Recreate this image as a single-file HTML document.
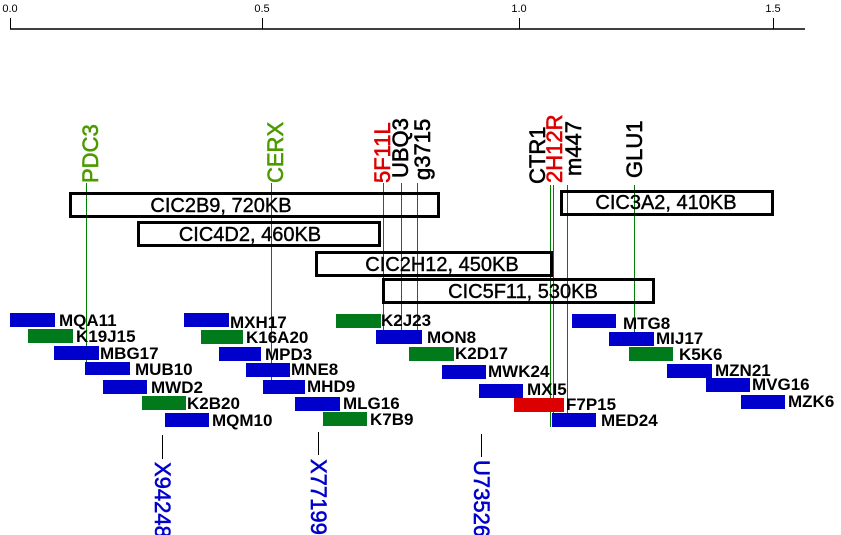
<!DOCTYPE html>
<html><head><meta charset="utf-8"><style>
html,body{margin:0;padding:0;background:#fff;}
svg{display:block;}
.t{font-family:"Liberation Sans",sans-serif;font-size:22px;stroke-width:0.6;}
.b{font-family:"Liberation Sans",sans-serif;font-size:20px;fill:#000;stroke:#000;stroke-width:0.4;}
.s{font-family:"Liberation Sans",sans-serif;font-size:17px;font-weight:bold;fill:#000;}
.ax{font-family:"Liberation Sans",sans-serif;font-size:11px;fill:#000;}
</style></head><body>
<svg width="841" height="535" viewBox="0 0 841 535" xmlns="http://www.w3.org/2000/svg">
<rect width="841" height="535" fill="#fff"/>
<line x1="10" y1="29" x2="805" y2="29" stroke="#000" stroke-width="1.5"/>
<g stroke="#000" stroke-width="1" shape-rendering="crispEdges">
<line x1="10.5" y1="18" x2="10.5" y2="29"/><line x1="262.5" y1="18" x2="262.5" y2="29"/>
<line x1="519.5" y1="18" x2="519.5" y2="29"/><line x1="773.5" y1="18" x2="773.5" y2="29"/>
</g>
<text class="ax" x="10" y="12" text-anchor="middle">0.0</text>
<text class="ax" x="262" y="12" text-anchor="middle">0.5</text>
<text class="ax" x="519" y="12" text-anchor="middle">1.0</text>
<text class="ax" x="773" y="12" text-anchor="middle">1.5</text>

<g stroke="#008000" stroke-width="1" shape-rendering="crispEdges">
<line x1="86.5" y1="183" x2="86.5" y2="375"/>
<line x1="271.5" y1="183" x2="271.5" y2="393"/>
<line x1="383.5" y1="183" x2="383.5" y2="343"/>
<line x1="401.5" y1="183" x2="401.5" y2="343"/>
<line x1="417.5" y1="183" x2="417.5" y2="343"/>
<line x1="550.5" y1="185" x2="550.5" y2="427"/>
<line x1="553.5" y1="185" x2="553.5" y2="427"/>
<line x1="567.5" y1="185" x2="567.5" y2="427"/>
<line x1="634.5" y1="185" x2="634.5" y2="345"/>
</g>

<g class="t">
<text transform="translate(98,183) rotate(-90)" fill="#4c9a00" stroke="#4c9a00">PDC3</text>
<text transform="translate(283,183) rotate(-90)" fill="#4c9a00" stroke="#4c9a00">CERX</text>
<text transform="translate(390,183) rotate(-90)" fill="#dd0000" stroke="#dd0000">5F11L</text>
<text transform="translate(408,178) rotate(-90)" fill="#000" stroke="#000">UBQ3</text>
<text transform="translate(430,180) rotate(-90)" fill="#000" stroke="#000">g3715</text>
<text transform="translate(545,184) rotate(-90)" fill="#000" stroke="#000">CTR1</text>
<text transform="translate(562,183) rotate(-90)" fill="#dd0000" stroke="#dd0000">2H12R</text>
<text transform="translate(581,176) rotate(-90)" fill="#000" stroke="#000">m447</text>
<text transform="translate(642,178) rotate(-90)" fill="#000" stroke="#000">GLU1</text>
</g>

<g fill="none" stroke="#000" stroke-width="3">
<rect x="70.5" y="193.5" width="368" height="23"/>
<rect x="138.5" y="222.5" width="241" height="23"/>
<rect x="316.5" y="252.5" width="235" height="23"/>
<rect x="383.5" y="279.5" width="270" height="23"/>
<rect x="561.5" y="191.5" width="211" height="23"/>
</g>
<text class="b" x="221" y="212" text-anchor="middle">CIC2B9, 720KB</text>
<text class="b" x="250" y="241" text-anchor="middle">CIC4D2, 460KB</text>
<text class="b" x="442" y="271" text-anchor="middle">CIC2H12, 450KB</text>
<text class="b" x="523" y="298" text-anchor="middle">CIC5F11, 530KB</text>
<text class="b" x="666" y="209" text-anchor="middle">CIC3A2, 410KB</text>

<g>
<rect x="10" y="313" width="45" height="14" fill="#0000cc"/><text class="s" x="59" y="326">MQA11</text>
<rect x="28" y="329" width="45" height="14" fill="#007a1a"/><text class="s" x="76" y="342">K19J15</text>
<rect x="54" y="346" width="45" height="14" fill="#0000cc"/><text class="s" x="100" y="359">MBG17</text>
<rect x="85" y="362" width="45" height="13" fill="#0000cc"/><text class="s" x="135" y="375">MUB10</text>
<rect x="103" y="380" width="44" height="14" fill="#0000cc"/><text class="s" x="151" y="393">MWD2</text>
<rect x="142" y="396" width="44" height="14" fill="#007a1a"/><text class="s" x="187" y="409">K2B20</text>
<rect x="165" y="413" width="44" height="14" fill="#0000cc"/><text class="s" x="212" y="426">MQM10</text>

<rect x="184" y="313" width="45" height="14" fill="#0000cc"/><text class="s" x="230" y="328">MXH17</text>
<rect x="201" y="330" width="42" height="14" fill="#007a1a"/><text class="s" x="246" y="343">K16A20</text>
<rect x="219" y="347" width="42" height="14" fill="#0000cc"/><text class="s" x="265" y="360">MPD3</text>
<rect x="246" y="363" width="44" height="14" fill="#0000cc"/><text class="s" x="291" y="375">MNE8</text>
<rect x="263" y="380" width="42" height="14" fill="#0000cc"/><text class="s" x="307" y="392">MHD9</text>
<rect x="295" y="397" width="45" height="14" fill="#0000cc"/><text class="s" x="343" y="409">MLG16</text>
<rect x="323" y="412" width="44" height="14" fill="#007a1a"/><text class="s" x="370" y="425">K7B9</text>

<rect x="336" y="314" width="45" height="14" fill="#007a1a"/><text class="s" x="381" y="326">K2J23</text>
<rect x="376" y="330" width="46" height="14" fill="#0000cc"/><text class="s" x="427" y="343">MON8</text>
<rect x="409" y="347" width="45" height="14" fill="#007a1a"/><text class="s" x="455" y="359">K2D17</text>
<rect x="442" y="365" width="44" height="14" fill="#0000cc"/><text class="s" x="488" y="377">MWK24</text>
<rect x="479" y="384" width="44" height="14" fill="#0000cc"/><text class="s" x="527" y="395">MXI5</text>
<rect x="514" y="398" width="50" height="14" fill="#dd0000"/><text class="s" x="566" y="410">F7P15</text>
<rect x="552" y="413" width="44" height="14" fill="#0000cc"/><text class="s" x="601" y="426">MED24</text>

<rect x="572" y="314" width="44" height="14" fill="#0000cc"/><text class="s" x="623" y="329">MTG8</text>
<rect x="609" y="332" width="45" height="14" fill="#0000cc"/><text class="s" x="656" y="344">MIJ17</text>
<rect x="629" y="347" width="44" height="14" fill="#007a1a"/><text class="s" x="679" y="360">K5K6</text>
<rect x="667" y="364" width="45" height="14" fill="#0000cc"/><text class="s" x="715" y="376">MZN21</text>
<rect x="706" y="378" width="44" height="14" fill="#0000cc"/><text class="s" x="752" y="390">MVG16</text>
<rect x="741" y="395" width="44" height="14" fill="#0000cc"/><text class="s" x="788" y="407">MZK6</text>
</g>

<g stroke="#000" stroke-width="1" shape-rendering="crispEdges">
<line x1="162.5" y1="435" x2="162.5" y2="459"/>
<line x1="318.5" y1="432" x2="318.5" y2="455"/>
<line x1="481.5" y1="434" x2="481.5" y2="457"/>
</g>
<g class="t" fill="#0000cc" stroke="#0000cc">
<text transform="translate(155,462) rotate(90)">X94248</text>
<text transform="translate(311,459) rotate(90)">X77199</text>
<text transform="translate(474,460) rotate(90)">U73526</text>
</g>
</svg>
</body></html>
